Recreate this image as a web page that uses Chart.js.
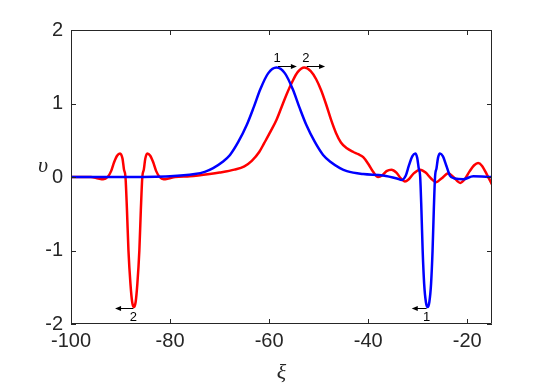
<!DOCTYPE html>
<html>
<head>
<meta charset="utf-8">
<script src="https://cdn.jsdelivr.net/npm/chart.js@4/dist/chart.umd.min.js"></script>
<style>
html,body{margin:0;padding:0;background:#fff;}
canvas{display:block;}
</style>
</head>
<body>
<canvas id="c" width="545" height="383"></canvas>
<script>
// ---- data ----
const xTicks = [-100, -80, -60, -40, -20];
const yTicks = [-2, -1, 0, 1, 2];

const blueX = [-100, -90, -80, -75, -73, -71.3, -69.5, -67.9, -66.2, -64.5, -63.1, -61.8, -60.2, -58.5, -56.8, -55.2, -53.9, -52.5, -50.8, -49.1, -47.5, -45.7, -44.3, -41, -37, -34.2, -33.2, -32.4, -31.8, -31.1, -30.5, -30.1, -29.8, -29.5, -29.25, -29.0, -28.7, -28.35, -28.0, -27.65, -27.3, -27.0, -26.75, -26.5, -26.2, -25.9, -25.5, -24.9, -24.2, -23.5, -22.5, -20.8, -18.8, -15];
const blueY = [0, 0, 0.01, 0.04, 0.07, 0.12, 0.20, 0.30, 0.48, 0.71, 0.95, 1.19, 1.41, 1.49, 1.41, 1.19, 0.95, 0.71, 0.48, 0.30, 0.20, 0.12, 0.08, 0.04, 0.02, -0.02, -0.04, 0.02, 0.15, 0.28, 0.32, 0.26, 0.12, 0.0, -0.45, -1.0, -1.45, -1.7, -1.77, -1.7, -1.45, -1.0, -0.45, 0.0, 0.12, 0.26, 0.32, 0.28, 0.15, 0.02, -0.02, -0.03, 0.01, 0.0];

const redX = [-100, -96, -94.5, -93.5, -92.6, -91.9, -91.3, -90.7, -90.1, -89.6, -89.3, -89.0, -88.7, -88.4, -88.0, -87.65, -87.3, -86.95, -86.6, -86.2, -85.9, -85.6, -85.3, -85.0, -84.6, -84.0, -83.4, -82.8, -82.1, -81.3, -80.3, -79, -76, -72, -70, -67, -65, -63.5, -62, -61, -59.7, -58.5, -57.5, -56.5, -55.3, -54.2, -52.9, -51.6, -50.5, -49.5, -48.5, -47.5, -46.5, -45.5, -44.3, -43.0, -42.0, -41.0, -40.0, -39.0, -38.0, -37.2, -36.3, -35.3, -34.3, -33.4, -32.6, -31.8, -30.8, -29.5, -28.4, -27.3, -26.3, -25.2, -23.8, -22.8, -21.4, -20.5, -19.5, -18.6, -17.8, -17.0, -16.0, -15];
const redY = [0, 0, -0.02, -0.03, 0.0, 0.08, 0.2, 0.29, 0.32, 0.25, 0.1, 0.0, -0.45, -1.0, -1.45, -1.7, -1.77, -1.7, -1.45, -1.0, -0.45, 0.0, 0.1, 0.25, 0.32, 0.29, 0.2, 0.08, 0.0, -0.03, -0.02, 0.0, 0.01, 0.04, 0.06, 0.10, 0.145, 0.22, 0.34, 0.46, 0.62, 0.78, 0.95, 1.12, 1.30, 1.43, 1.49, 1.44, 1.33, 1.18, 0.99, 0.78, 0.60, 0.47, 0.39, 0.34, 0.31, 0.27, 0.18, 0.07, 0.0, 0.02, 0.08, 0.10, 0.06, -0.02, -0.06, -0.03, 0.05, 0.10, 0.06, -0.02, -0.07, -0.02, 0.05, 0.0, -0.08, -0.03, 0.08, 0.16, 0.19, 0.15, 0.03, -0.10];

// annotation arrows (data coordinates) and their labels
const arrowStartX = [-58.2, -52.4, -87.4, -28.2];
const arrowEndX   = [-54.4, -48.7, -91.1, -31.2];
const arrowY      = [1.51, 1.51, -1.78, -1.78];
const arrowLabels = ['1', '2', '2', '1'];
const arrowLabelSide = ['above', 'above', 'below', 'below'];

const xTitle = 'ξ';
const yTitle = 'υ';

// ---- chart ----
const toPts = (xs, ys) => xs.map((x, i) => ({x: x, y: ys[i]}));
const INK = '#262626';

const decor = {
  id: 'decor',
  afterDatasetsDraw(chart) {
    const {ctx, chartArea: a, scales: {x, y}} = chart;
    ctx.save();
    // box
    ctx.strokeStyle = INK;
    ctx.lineWidth = 1;
    ctx.beginPath();
    ctx.rect(Math.round(a.left) + 0.5, Math.round(a.top) + 0.5, Math.round(a.right - a.left) - 1, Math.round(a.bottom - a.top) - 1);
    ctx.stroke();
    // inward ticks
    const tl = 5;
    ctx.beginPath();
    xTicks.forEach(v => {
      const px = Math.round(x.getPixelForValue(v)) + 0.5;
      ctx.moveTo(px, a.bottom); ctx.lineTo(px, a.bottom - tl);
      ctx.moveTo(px, a.top); ctx.lineTo(px, a.top + tl);
    });
    yTicks.forEach(v => {
      const py = Math.round(y.getPixelForValue(v)) + 0.5;
      ctx.moveTo(a.left, py); ctx.lineTo(a.left + tl, py);
      ctx.moveTo(a.right, py); ctx.lineTo(a.right - tl, py);
    });
    ctx.stroke();
    // arrows
    ctx.strokeStyle = '#000';
    ctx.fillStyle = '#000';
    ctx.font = '13px "Liberation Sans", Arial, sans-serif';
    ctx.textAlign = 'center';
    arrowStartX.forEach((sx, i) => {
      const x0 = x.getPixelForValue(sx);
      const x1 = x.getPixelForValue(arrowEndX[i]);
      const py = Math.round(y.getPixelForValue(arrowY[i])) + 0.5;
      const dir = Math.sign(x1 - x0);
      ctx.lineWidth = 1;
      ctx.beginPath();
      ctx.moveTo(x0, py); ctx.lineTo(x1 - dir * 5, py);
      ctx.stroke();
      ctx.beginPath();
      ctx.moveTo(x1, py);
      ctx.lineTo(x1 - dir * 6, py - 2.5);
      ctx.lineTo(x1 - dir * 6, py + 2.5);
      ctx.closePath();
      ctx.fill();
      ctx.textBaseline = 'alphabetic';
      if (arrowLabelSide[i] === 'above') {
        ctx.fillText(arrowLabels[i], x0 - 1, py - 5);
      } else {
        ctx.fillText(arrowLabels[i], x0, py + 12);
      }
    });
    // axis titles
    ctx.fillStyle = INK;
    ctx.font = 'italic 22px "Liberation Serif", "DejaVu Serif", serif';
    ctx.textAlign = 'center';
    ctx.textBaseline = 'alphabetic';
    ctx.fillText(xTitle, (a.left + a.right) / 2, 379);
    ctx.fillText(yTitle, 43, 172);
    ctx.restore();
  }
};

new Chart(document.getElementById('c'), {
  type: 'line',
  data: {
    datasets: [
      {data: toPts(blueX, blueY), borderColor: '#0000ff', borderWidth: 2.5, pointRadius: 0, fill: false, cubicInterpolationMode: 'monotone'},
      {data: toPts(redX, redY), borderColor: '#ff0000', borderWidth: 2.5, pointRadius: 0, fill: false, cubicInterpolationMode: 'monotone'}
    ]
  },
  options: {
    responsive: false,
    animation: false,
    devicePixelRatio: 1,
    layout: {padding: {left: 0, right: 53, top: 30, bottom: 0}},
    plugins: {legend: {display: false}, tooltip: {enabled: false}},
    scales: {
      x: {
        type: 'linear', min: -100, max: -15,
        afterBuildTicks: s => { s.ticks = xTicks.map(v => ({value: v})); },
        afterFit: s => { s.height = 59; },
        grid: {display: false, drawTicks: false, tickLength: 0},
        border: {display: false},
        ticks: {font: {family: '"Liberation Sans", Arial, sans-serif', size: 20}, color: INK, padding: 5, maxRotation: 0, autoSkip: false}
      },
      y: {
        type: 'linear', min: -2, max: 2,
        afterBuildTicks: s => { s.ticks = yTicks.map(v => ({value: v})); },
        afterFit: s => { s.width = 71; },
        grid: {display: false, drawTicks: false, tickLength: 0},
        border: {display: false},
        ticks: {font: {family: '"Liberation Sans", Arial, sans-serif', size: 20}, color: INK, padding: 8, autoSkip: false}
      }
    }
  },
  plugins: [decor]
});
</script>
</body>
</html>
